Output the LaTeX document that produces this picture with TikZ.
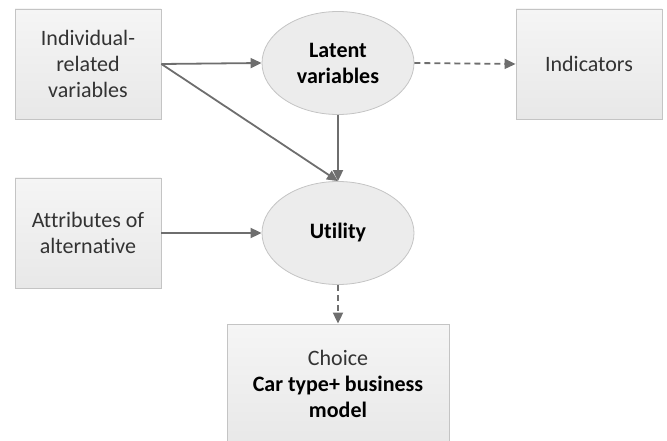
\documentclass[tikz,border=0pt]{standalone}
\usepackage{fontspec}
\setmainfont{Carlito}[Ligatures=NoCommon]
\usetikzlibrary{arrows.meta,shapes.geometric}
\definecolor{boxtop}{HTML}{F5F5F5}
\definecolor{boxbot}{HTML}{E8E8E8}
\definecolor{boxline}{HTML}{C4C4C4}
\definecolor{arrowgray}{HTML}{6E6E6E}
\definecolor{textgray}{HTML}{333333}
\begin{document}
\begin{tikzpicture}[x=1pt, y=-1pt,
    box/.style={rectangle, draw=boxline, top color=boxtop, bottom color=boxbot, line width=0.8pt,
        minimum width=146pt, minimum height=110pt, align=center, text=textgray,
        font=\fontsize{22}{26}\selectfont},
    oval/.style={ellipse, draw=boxline, fill=boxbot!70!boxtop, line width=0.8pt, inner sep=0pt,
        minimum width=152pt, minimum height=103pt, align=center, text=black,
        font=\fontsize{22}{26}\selectfont\bfseries},
    link/.style={draw=arrowgray, line width=1.8pt, -{Triangle[length=11pt, width=10pt]}},
    dlink/.style={link, dash pattern=on 6pt off 4pt}]
    \useasboundingbox (0,0) rectangle (667,441);
    % Boxes and ellipses
    \foreach \nodename/\nodeposition/\nodetext in {indiv/{(88,64)}/{Individual-\\related\\variables},
            indic/{(589,64)}/{Indicators}, attr/{(88,233)}/{Attributes of\\alternative}}
        \node[box] (\nodename) at \nodeposition {\nodetext};
    \node[oval] (latent) at (338,63) {Latent\\variables};
    \node[oval] (util) at (338,233) {Utility};
    \node[box, minimum width=222pt, minimum height=120pt] (choice) at (338,384)
        {Choice\\\textbf{\color{black}Car type+ business}\\\textbf{\color{black}model}};

    % Connectors
    \foreach \startnode/\endnode in {indiv.east/latent.west, indiv.east/util.north,
            latent.south/util.north, attr.east/util.west}
        \draw[link] (\startnode) -- (\endnode);
    \foreach \startnode/\endnode in {latent.east/indic.west, util.south/choice.north}
        \draw[dlink] (\startnode) -- (\endnode);
\end{tikzpicture}
\end{document}
